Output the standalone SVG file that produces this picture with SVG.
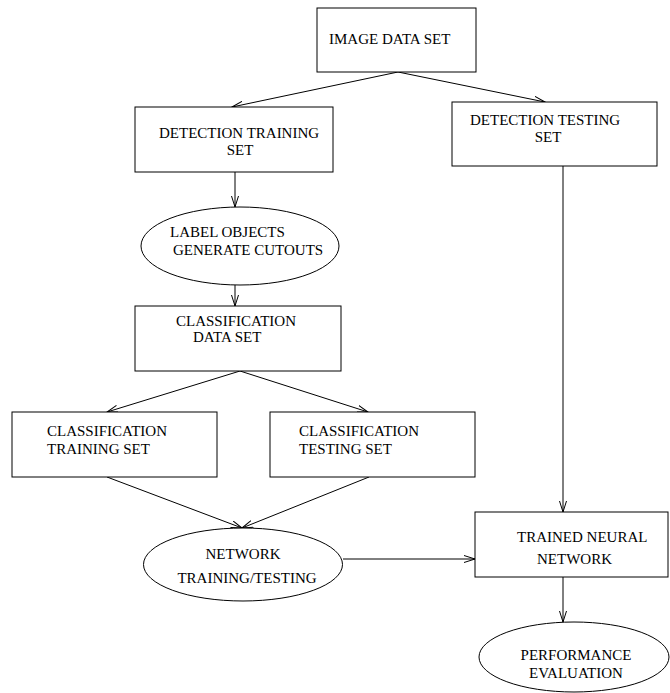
<svg xmlns="http://www.w3.org/2000/svg" width="670" height="693" viewBox="0 0 670 693">
<style>
.n{fill:#fff;stroke:#000;stroke-width:1}
.t{font-family:"Liberation Serif","Times New Roman",serif;font-size:15px;fill:#000}
.c{text-anchor:middle}
.e{fill:none;stroke:#000;stroke-width:1;marker-end:url(#a)}
</style>
<defs>
<marker id="a" markerUnits="userSpaceOnUse" viewBox="0 0 12 8" refX="11" refY="4" markerWidth="12" markerHeight="8" orient="auto">
<path d="M0,0.5 L11,4 L0,7.5" fill="none" stroke="#000" stroke-width="1"/>
</marker>
</defs>
<rect width="670" height="693" fill="#fff"/>
<g id="connectors">
<path class="e" d="M398,72 L232,107"/>
<path class="e" d="M398,72 L545,102"/>
<path class="e" d="M235,172 L235,207"/>
<path class="e" d="M235,285 L235,306"/>
<path class="e" d="M240,371 L107,412"/>
<path class="e" d="M240,371 L368,412"/>
<path class="e" d="M107,477 L242,528"/>
<path class="e" d="M369,477 L242,528"/>
<path class="e" d="M343,559 L475,559"/>
<path class="e" d="M563,166 L563,512"/>
<path class="e" d="M563,577 L563,622"/>
</g>
<g id="image-data-set">
<rect class="n" x="317" y="8" width="159" height="64"/>
<text class="t" x="329" y="44">IMAGE DATA SET</text>
</g>
<g id="detection-training-set">
<rect class="n" x="135" y="107" width="198" height="65"/>
<text class="t" x="159" y="138">DETECTION TRAINING</text>
<text class="t c" x="240" y="155">SET</text>
</g>
<g id="detection-testing-set">
<rect class="n" x="452" y="102" width="205" height="64"/>
<text class="t" x="470" y="125">DETECTION TESTING</text>
<text class="t c" x="548" y="142">SET</text>
</g>
<g id="label-objects">
<ellipse class="n" cx="240" cy="246" rx="99" ry="39"/>
<text class="t" x="170" y="237">LABEL OBJECTS</text>
<text class="t" x="173" y="255">GENERATE CUTOUTS</text>
</g>
<g id="classification-data-set">
<rect class="n" x="135" y="306" width="206" height="65"/>
<text class="t" x="176" y="326">CLASSIFICATION</text>
<text class="t" x="193" y="342">DATA SET</text>
</g>
<g id="classification-training-set">
<rect class="n" x="12" y="412" width="205" height="65"/>
<text class="t" x="47" y="436">CLASSIFICATION</text>
<text class="t" x="47" y="454">TRAINING SET</text>
</g>
<g id="classification-testing-set">
<rect class="n" x="270" y="412" width="205" height="65"/>
<text class="t" x="299" y="436">CLASSIFICATION</text>
<text class="t" x="299" y="454">TESTING SET</text>
</g>
<g id="network-training-testing">
<ellipse class="n" cx="243" cy="564.5" rx="99.5" ry="36.5"/>
<text class="t c" x="243" y="559">NETWORK</text>
<text class="t c" x="247" y="583">TRAINING/TESTING</text>
</g>
<g id="trained-neural-network">
<rect class="n" x="475" y="512" width="193" height="65"/>
<text class="t" x="517" y="542">TRAINED NEURAL</text>
<text class="t" x="537" y="564">NETWORK</text>
</g>
<g id="performance-evaluation">
<ellipse class="n" cx="574" cy="657" rx="95" ry="35"/>
<text class="t c" x="576" y="660">PERFORMANCE</text>
<text class="t c" x="576" y="678">EVALUATION</text>
</g>
</svg>
